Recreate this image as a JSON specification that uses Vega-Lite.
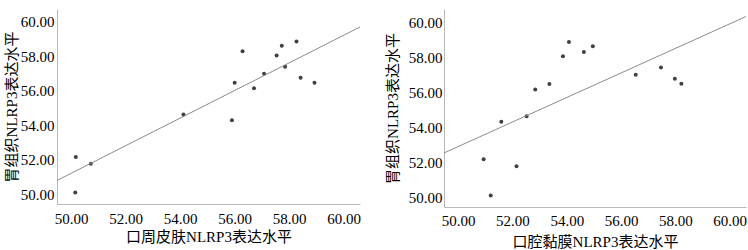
{
  "$schema": "https://vega.github.io/schema/vega-lite/v6.json",
  "padding": {"left": 4, "top": 3, "right": 0, "bottom": 0},
  "spacing": 24,
  "datasets": {
    "d": [
      {"skin": 50.17, "mucosa": 50.94, "stomach": 52.18},
      {"skin": 50.15, "mucosa": 51.20, "stomach": 50.11},
      {"skin": 50.72, "mucosa": 52.15, "stomach": 51.78},
      {"skin": 54.12, "mucosa": 52.52, "stomach": 54.63},
      {"skin": 55.90, "mucosa": 51.59, "stomach": 54.31},
      {"skin": 56.00, "mucosa": 53.36, "stomach": 56.47},
      {"skin": 56.29, "mucosa": 54.63, "stomach": 58.30},
      {"skin": 56.71, "mucosa": 52.84, "stomach": 56.16},
      {"skin": 57.08, "mucosa": 56.54, "stomach": 57.00},
      {"skin": 57.54, "mucosa": 53.86, "stomach": 58.05},
      {"skin": 57.73, "mucosa": 54.96, "stomach": 58.62},
      {"skin": 57.85, "mucosa": 57.47, "stomach": 57.41},
      {"skin": 58.27, "mucosa": 54.08, "stomach": 58.86},
      {"skin": 58.42, "mucosa": 57.98, "stomach": 56.77},
      {"skin": 58.93, "mucosa": 58.22, "stomach": 56.48}
    ]
  },
  "config": {
    "view": {"stroke": null},
    "font": "Liberation Serif, Noto Sans CJK SC",
    "axis": {
      "grid": false,
      "ticks": false,
      "domainColor": "#b8b8b8",
      "domainWidth": 1,
      "labelFont": "Liberation Serif",
      "labelFontSize": 15,
      "labelColor": "#000000",
      "titleFont": "Liberation Serif, Noto Sans CJK SC",
      "titleFontSize": 15,
      "titleFontWeight": "normal",
      "titleColor": "#000000",
      "labelFlush": false,
      "labelOverlap": false,
      "tickCount": 10
    }
  },
  "hconcat": [
    {
      "title": {"text": " ", "fontSize": 1, "offset": 5},
      "width": 303,
      "height": 195,
      "data": {"name": "d"},
      "layer": [
        {
          "mark": {"type": "circle", "size": 16, "color": "#404040", "opacity": 1},
          "encoding": {
            "x": {"field": "skin", "type": "quantitative", "scale": {"domain": [49.48, 60.6], "nice": false, "zero": false},
                  "axis": {"values": [50, 52, 54, 56, 58, 60], "tickCount": 10, "format": ".2f", "title": "口周皮肤NLRP3表达水平", "labelPadding": 7, "titlePadding": 3, "labelOverlap": false}},
            "y": {"field": "stomach", "type": "quantitative", "scale": {"domain": [49.45, 60.75], "nice": false, "zero": false},
                  "axis": {"values": [50, 52, 54, 56, 58, 60], "tickCount": 10, "format": ".2f", "title": "胃组织NLRP3表达水平", "labelPadding": 3, "titlePadding": 1, "labelOverlap": false}}
          }
        },
        {
          "transform": [{"regression": "stomach", "on": "skin", "extent": [49.48, 60.6]}],
          "mark": {"type": "line", "color": "#8c8c8c", "strokeWidth": 1, "clip": true},
          "encoding": {
            "x": {"field": "skin", "type": "quantitative"},
            "y": {"field": "stomach", "type": "quantitative"}
          }
        }
      ]
    },
    {
      "width": 302,
      "height": 198,
      "data": {"name": "d"},
      "layer": [
        {
          "mark": {"type": "circle", "size": 16, "color": "#404040", "opacity": 1},
          "encoding": {
            "x": {"field": "mucosa", "type": "quantitative", "scale": {"domain": [49.48, 60.6], "nice": false, "zero": false},
                  "axis": {"values": [50, 52, 54, 56, 58, 60], "tickCount": 10, "format": ".2f", "title": "口腔黏膜NLRP3表达水平", "labelPadding": 6, "titlePadding": 6, "labelOverlap": false}},
            "y": {"field": "stomach", "type": "quantitative", "scale": {"domain": [49.45, 60.75], "nice": false, "zero": false},
                  "axis": {"values": [50, 52, 54, 56, 58, 60], "tickCount": 10, "format": ".2f", "title": "胃组织NLRP3表达水平", "labelPadding": 2, "titlePadding": 8, "labelOverlap": false}}
          }
        },
        {
          "transform": [{"regression": "stomach", "on": "mucosa", "extent": [49.48, 60.6]}],
          "mark": {"type": "line", "color": "#8c8c8c", "strokeWidth": 1, "clip": true},
          "encoding": {
            "x": {"field": "mucosa", "type": "quantitative"},
            "y": {"field": "stomach", "type": "quantitative"}
          }
        }
      ]
    }
  ]
}
